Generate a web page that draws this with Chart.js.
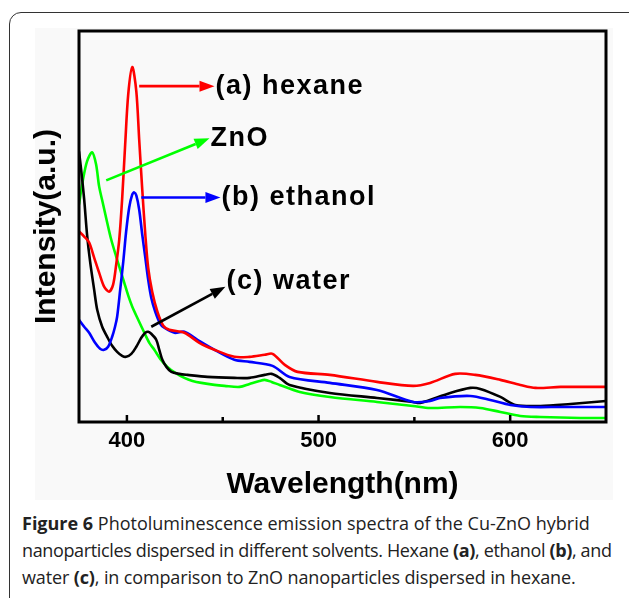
<!DOCTYPE html>
<html>
<head>
<meta charset="utf-8">
<script src="https://cdn.jsdelivr.net/npm/chart.js@4.4.0/dist/chart.umd.min.js"></script>
<style>
  body { margin: 0; background: #fff; width: 629px; height: 598px; overflow: hidden; position: relative; }
  #frame { position: absolute; left: 9px; top: 12px; width: 640px; height: 640px; border: 1.5px solid #333; border-radius: 12px; }
  #imgbg { position: absolute; left: 35px; top: 28px; width: 578px; height: 472px; background: #f9f9f9; }
  #pl { position: absolute; left: 0; top: 0; }
  #caption { position: absolute; left: 22px; top: 510px; font-family: "Open Sans", sans-serif; font-size: 18px; line-height: 27px; color: #222; white-space: nowrap; }
  #caption div { height: 27px; }
  #caption b { font-weight: 700; }
</style>
</head>
<body>
<div id="frame"></div>
<div id="imgbg"></div>
<canvas id="pl" width="629" height="510"></canvas>
<div id="caption">
  <div><b>Figure 6</b> Photoluminescence emission spectra of the Cu-ZnO hybrid</div>
  <div style="letter-spacing:-0.36px">nanoparticles dispersed in different solvents. Hexane <b>(a)</b>, ethanol <b>(b)</b>, and</div>
  <div style="letter-spacing:-0.13px">water <b>(c)</b>, in comparison to ZnO nanoparticles dispersed in hexane.</div>
</div>
<script>
// wavelength (nm) / intensity (a.u.)
const hexaneX = [375, 377.7, 380.3, 382.9, 385.5, 388.1, 390.7, 392.8, 394.4, 396.0, 397.5, 399.1, 400.7, 402.8, 404.9, 406.4, 408.0, 409.6, 411.1, 413.2, 415.9, 419.0, 422.1, 430.0, 437.8, 445.7, 456.1, 464.0, 471.9, 476.0, 482.4, 489.1, 505.9, 530.5, 549.3, 558.2, 571.3, 581.8, 594.9, 605.3, 613.2, 626.3, 650];
const hexaneY = [190, 185, 179, 164, 149, 135, 130, 137, 157, 182, 222, 277, 327, 354, 330, 282, 232, 187, 154, 130, 110, 96, 92, 89, 79, 72, 65, 65, 67, 68, 57, 50, 47, 40, 36, 39, 48, 47, 42, 37, 34, 35, 35];

const ethanolX = [375, 377.7, 380.3, 383.4, 386.0, 388.1, 390.2, 392.3, 393.8, 394.9, 396.5, 398.1, 399.6, 401.2, 402.8, 403.8, 404.9, 406.4, 408.0, 409.6, 411.1, 412.7, 414.8, 417.4, 419.5, 424.8, 430.0, 436.8, 445.7, 456.1, 464.0, 476.0, 484.9, 505.9, 530.5, 549.3, 558.2, 563.4, 579.2, 589.6, 600.1, 610.5, 626.3, 650];
const ethanolY = [102, 95, 89, 79, 73, 72, 75, 85, 95, 105, 132, 160, 190, 214, 227, 229, 226, 212, 187, 164, 142, 124, 110, 98, 94, 89, 90, 82, 72, 62, 60, 56, 45, 39, 32, 20, 21, 24, 26, 22, 17, 15, 15, 15];

const waterX = [375, 376.1, 377.7, 379.2, 380.8, 382.9, 384.5, 387.1, 389.7, 392.3, 394.9, 397.5, 399.6, 402.3, 404.9, 407.5, 409.6, 411.1, 412.7, 415.3, 416.9, 418.5, 420.6, 423.2, 427.4, 431.6, 442.0, 456.1, 464.0, 471.9, 475.5, 479.7, 484.9, 505.9, 530.5, 549.3, 553.0, 568.7, 579.2, 584.4, 594.9, 602.7, 615.8, 631.5, 650];
const waterY = [270, 252, 222, 187, 160, 132, 112, 95, 85, 76, 70, 66, 65, 68, 75, 84, 89, 90, 88, 82, 72, 62, 55, 50, 48, 47, 45, 44, 44, 47, 48, 44, 37, 29, 24, 20, 19, 29, 34, 33, 25, 17, 16, 18, 21];

const znoX = [375, 377.1, 379.2, 381.8, 383.9, 385.5, 387.6, 389.7, 391.8, 394.4, 396.5, 398.6, 400.7, 402.8, 405.9, 409.1, 411.7, 414.3, 417.4, 421.1, 425.3, 430.0, 434.2, 438.9, 445.7, 450.9, 458.8, 464.0, 469.2, 471.9, 475.5, 479.7, 490.2, 505.9, 530.5, 549.3, 558.2, 573.9, 584.4, 594.9, 605.3, 615.8, 636.7, 650];
const znoY = [217, 242, 260, 269, 257, 235, 217, 199, 182, 165, 152, 139, 126, 115, 102, 89, 79, 72, 63, 55, 49, 44, 41, 39, 37, 36, 35, 38, 41, 42, 40, 37, 30, 25, 20, 16, 14, 15, 14, 10, 6, 5, 4, 4];

const xTickLabels = [400, 500, 600];
const xMinorTicks = [450, 550];

// label arrows: [fromX, fromY, toX, toY] in data units, plus text
const labels = [
  { text: "(a) hexane", color: "#ff0000", from: [406.4, 335], to: [445.7, 335] },
  { text: "ZnO", color: "#00ff00", from: [389.2, 241], to: [443.1, 283] },
  { text: "(b) ethanol", color: "#0000ff", from: [407.5, 224], to: [448.8, 224] },
  { text: "(c) water", color: "#000000", from: [412.7, 95], to: [451.4, 135] }
];

Chart.defaults.font.family = "'Liberation Sans', Arial, sans-serif";
Chart.defaults.color = "#000";

const toPts = (xs, ys) => xs.map((x, i) => ({ x: x, y: ys[i] }));

const series = (data, color) => ({
  data: data,
  borderColor: color,
  borderWidth: 2.6,
  pointRadius: 0,
  tension: 0.3,
  fill: false
});

const boxPlugin = {
  id: "box",
  afterDatasetsDraw(chart) {
    const { ctx, chartArea: a, scales } = chart;
    const xs = scales.x, ys = scales.y;
    ctx.save();
    // inward ticks
    ctx.strokeStyle = "#000";
    ctx.lineWidth = 2.5;
    xTickLabels.forEach(v => {
      const p = xs.getPixelForValue(v);
      ctx.beginPath(); ctx.moveTo(p, a.bottom); ctx.lineTo(p, a.bottom - 7); ctx.stroke();
    });
    xMinorTicks.forEach(v => {
      const p = xs.getPixelForValue(v);
      ctx.beginPath(); ctx.moveTo(p, a.bottom); ctx.lineTo(p, a.bottom - 5); ctx.stroke();
    });
    // frame
    ctx.lineWidth = 3;
    ctx.strokeRect(a.left, a.top, a.right - a.left, a.bottom - a.top);

    // arrows and their texts
    labels.forEach((l, i) => {
      const x0 = xs.getPixelForValue(l.from[0]), y0 = ys.getPixelForValue(l.from[1]);
      const x1 = xs.getPixelForValue(l.to[0]), y1 = ys.getPixelForValue(l.to[1]);
      const ang = Math.atan2(y1 - y0, x1 - x0);
      const hl = 15, hw = 5.5;
      const bx = x1 - hl * Math.cos(ang), by = y1 - hl * Math.sin(ang);
      ctx.strokeStyle = l.color;
      ctx.fillStyle = l.color;
      ctx.lineWidth = 2.6;
      ctx.beginPath(); ctx.moveTo(x0, y0); ctx.lineTo(bx, by); ctx.stroke();
      ctx.beginPath();
      ctx.moveTo(x1, y1);
      ctx.lineTo(bx + hw * Math.sin(ang), by - hw * Math.cos(ang));
      ctx.lineTo(bx - hw * Math.sin(ang), by + hw * Math.cos(ang));
      ctx.closePath(); ctx.fill();

      ctx.fillStyle = "#000";
      ctx.font = "bold 27px 'Liberation Sans', Arial, sans-serif";
      ctx.letterSpacing = "1.5px";
      ctx.textBaseline = "middle";
      ctx.textAlign = "left";
      ctx.fillText(l.text, x1 + 1, i === 3 ? y1 - 5 : y1);
    });
    ctx.restore();
  }
};

new Chart(document.getElementById("pl"), {
  type: "line",
  data: {
    datasets: [
      series(toPts(hexaneX, hexaneY), "#ff0000"),
      series(toPts(ethanolX, ethanolY), "#0000ff"),
      series(toPts(waterX, waterY), "#000000"),
      series(toPts(znoX, znoY), "#00ff00")
    ]
  },
  options: {
    responsive: false,
    animation: false,
    layout: { padding: { left: 25, top: 31, right: 23, bottom: 3 } },
    plugins: { legend: { display: false }, tooltip: { enabled: false } },
    scales: {
      x: {
        type: "linear",
        min: 375,
        max: 650,
        grid: { display: false, drawTicks: false },
        border: { display: false },
        afterBuildTicks: axis => { axis.ticks = xTickLabels.map(v => ({ value: v })); },
        afterFit: axis => { axis.height = 85; },
        ticks: { padding: 6, font: { size: 22, weight: "bold" }, color: "#000" },
        title: { display: true, text: "Wavelength(nm)", font: { size: 30, weight: "bold" }, color: "#000" }
      },
      y: {
        min: 0,
        max: 390,
        grid: { display: false, drawTicks: false },
        border: { display: false },
        ticks: { display: false },
        afterFit: axis => { axis.width = 54; },
        title: { display: true, text: "Intensity(a.u.)", font: { size: 30, weight: "bold" }, color: "#000" }
      }
    }
  },
  plugins: [boxPlugin]
});
</script>
</body>
</html>
